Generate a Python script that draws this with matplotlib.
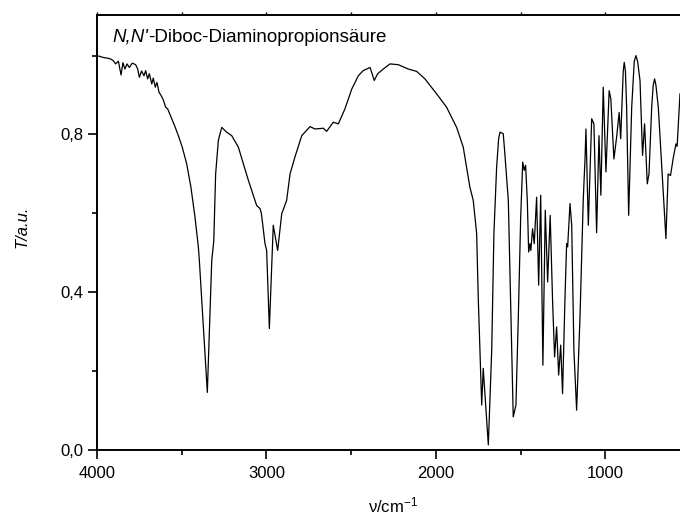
import matplotlib
matplotlib.use("Agg")
import matplotlib.pyplot as plt
from matplotlib.ticker import FixedLocator, FuncFormatter

plt.rcParams['font.family'] = ['Liberation Sans', 'DejaVu Sans']
plt.rcParams['mathtext.fontset'] = 'custom'
plt.rcParams['mathtext.rm'] = 'Liberation Sans'
plt.rcParams['mathtext.it'] = 'Liberation Sans:italic'

wavenumber = [4000, 3960, 3930, 3913, 3904, 3890, 3874, 3858, 3847, 3835, 3823, 3809,
              3792, 3772, 3760, 3750, 3737, 3723, 3713, 3701, 3691, 3677, 3668, 3656,
              3646, 3634, 3622, 3609, 3595, 3583, 3563, 3540, 3520, 3497, 3471, 3446,
              3422, 3402, 3396, 3349, 3323, 3311, 3300, 3284, 3264, 3250, 3235, 3205,
              3166, 3107, 3058, 3038, 3030, 3009, 2999, 2983, 2960, 2934, 2910, 2881,
              2861, 2832, 2792, 2743, 2714, 2685, 2665, 2645, 2606, 2576, 2537, 2497,
              2458, 2429, 2389, 2364, 2344, 2311, 2271, 2222, 2163, 2114, 2065, 1996,
              1937, 1878, 1839, 1800, 1780, 1760, 1750, 1730, 1721, 1691, 1671, 1658,
              1642, 1630, 1622, 1603, 1595, 1573, 1553, 1544, 1528, 1514, 1500, 1488,
              1479, 1471, 1461, 1453, 1445, 1440, 1430, 1420, 1406, 1394, 1382, 1369,
              1355, 1341, 1326, 1312, 1300, 1288, 1276, 1264, 1253, 1239, 1229, 1223,
              1209, 1199, 1186, 1170, 1150, 1131, 1120, 1115, 1101, 1081, 1068, 1052,
              1038, 1027, 1013, 997, 978, 968, 950, 934, 919, 910, 895, 889, 882, 875,
              863, 845, 830, 820, 810, 796, 781, 769, 753, 743, 727, 718, 710, 702, 688, 663,
              643, 630, 616, 600, 584, 577, 560]
transmittance = [1.000, 0.995, 0.993, 0.990, 0.987, 0.979, 0.986, 0.951, 0.982, 0.966, 0.979, 0.970,
                 0.981, 0.977, 0.966, 0.945, 0.961, 0.949, 0.962, 0.941, 0.954, 0.928, 0.943, 0.920,
                 0.932, 0.907, 0.899, 0.888, 0.869, 0.865, 0.844, 0.820, 0.797, 0.768, 0.726, 0.667,
                 0.591, 0.515, 0.480, 0.146, 0.480, 0.530, 0.700, 0.785, 0.818, 0.812, 0.806, 0.797,
                 0.768, 0.684, 0.620, 0.612, 0.600, 0.524, 0.506, 0.308, 0.570, 0.506, 0.599, 0.633,
                 0.700, 0.743, 0.797, 0.820, 0.814, 0.815, 0.816, 0.808, 0.831, 0.827, 0.865, 0.915,
                 0.949, 0.962, 0.970, 0.937, 0.954, 0.966, 0.979, 0.977, 0.966, 0.960, 0.941, 0.903,
                 0.869, 0.818, 0.768, 0.667, 0.633, 0.549, 0.380, 0.114, 0.207, 0.013, 0.253, 0.549,
                 0.717, 0.790, 0.806, 0.802, 0.760, 0.633, 0.253, 0.084, 0.114, 0.338, 0.591, 0.730,
                 0.709, 0.722, 0.633, 0.502, 0.523, 0.506, 0.561, 0.523, 0.641, 0.418, 0.646, 0.215,
                 0.608, 0.426, 0.595, 0.380, 0.236, 0.312, 0.190, 0.266, 0.143, 0.380, 0.523, 0.515,
                 0.625, 0.570, 0.253, 0.101, 0.338, 0.633, 0.743, 0.814, 0.570, 0.840, 0.827, 0.551,
                 0.797, 0.646, 0.920, 0.705, 0.911, 0.890, 0.738, 0.793, 0.856, 0.789, 0.960, 0.983, 0.960, 0.870,
                 0.595, 0.869, 0.985, 1.000, 0.985, 0.937, 0.747, 0.827, 0.675, 0.700, 0.869, 0.925, 0.941, 0.925, 0.869, 0.684,
                 0.536, 0.700, 0.696, 0.740, 0.776, 0.770, 0.903]

x_major = [4000, 3000, 2000, 1000]
x_minor = [3500, 2500, 1500, 500]
y_major = [0.0, 0.4, 0.8]
y_minor = [0.2, 0.6, 1.0]

fig = plt.figure(figsize=(6.8, 5.17), dpi=100)
ax = fig.add_axes([97/680, 1 - 450/517, 1 - 97/680, (450 - 15)/517])
ax.plot(wavenumber, transmittance, color='black', lw=0.9)
ax.set_xlim(4000, 560)
ax.set_ylim(0, 1.103)

ax.xaxis.set_major_locator(FixedLocator(x_major))
ax.xaxis.set_minor_locator(FixedLocator(x_minor))
ax.yaxis.set_major_locator(FixedLocator(y_major))
ax.yaxis.set_minor_locator(FixedLocator(y_minor))
ax.yaxis.set_major_formatter(FuncFormatter(lambda v, p: f"{v:.1f}".replace('.', ',')))
ax.xaxis.set_major_formatter(FuncFormatter(lambda v, p: f"{int(v)}"))

for s in ['left', 'bottom', 'top']:
    ax.spines[s].set_linewidth(1.4)
ax.spines['right'].set_visible(False)

ax.tick_params(axis='both', which='major', direction='out', length=6.5, width=1.2, labelsize=12)
ax.tick_params(axis='both', which='minor', direction='out', length=3.6, width=1.2)
ax.tick_params(axis='x', which='major', pad=5)
ax.tick_params(axis='y', which='major', pad=3)

# small top ticks, no labels
ax.tick_params(axis='x', which='both', top=True, labeltop=False)
for t in ax.xaxis.get_major_ticks() + ax.xaxis.get_minor_ticks():
    t.tick2line.set_markersize(2.5)
    t.tick2line.set_markeredgewidth(1.0)

t1 = ax.text(112/680, 1 - 42/517, "N,N'", transform=fig.transFigure, fontsize=13.5,
             style='italic', ha='left', va='baseline')
ax.annotate("-Diboc-Diaminopropionsäure", xy=(1, 0), xycoords=t1, fontsize=13.5,
            ha='left', va='bottom')

fig.text(22/680, 1 - 227/517, "T/a.u.", rotation=90, style='italic', fontsize=12,
         ha='center', va='center')
fig.text(393/680, 1 - 505/517, r"ν/cm$^{-1}$", fontsize=12, ha='center', va='center')

fig.savefig("out.png", dpi=100)
